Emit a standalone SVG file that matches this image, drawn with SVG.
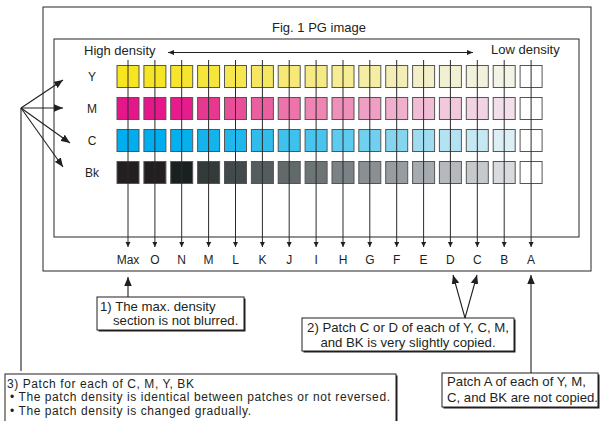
<svg xmlns="http://www.w3.org/2000/svg" width="603" height="421" viewBox="0 0 603 421">
<style>
text{font-family:"Liberation Sans",Arial,Helvetica,sans-serif;fill:#231f20}
.t13{font-size:13px}
.t12{font-size:12px}
.bx{font-size:13.2px}
.bs{font-size:12px;letter-spacing:0.58px}
.frame{fill:none;stroke:#3a3a3a;stroke-width:1.1}
.p rect{stroke:#555;stroke-width:1}
.col{stroke:#2a2a2a;stroke-width:1;fill:none}
.ln{stroke:#231f20;stroke-width:1.1;fill:none}
.box{fill:#fff;stroke:#231f20;stroke-width:1}
.sh{fill:#231f20}
</style>
<defs>
<marker id="sa" markerUnits="userSpaceOnUse" markerWidth="6" markerHeight="6" refX="5" refY="2.5" orient="auto"><path d="M0,0 L5,2.5 L0,5 z" fill="#231f20"/></marker>
<marker id="da" markerUnits="userSpaceOnUse" markerWidth="8" markerHeight="6" refX="6" refY="2.5" orient="auto-start-reverse"><path d="M0,0 L6,2.5 L0,5 z" fill="#231f20"/></marker>
<marker id="ba" markerUnits="userSpaceOnUse" markerWidth="10" markerHeight="8" refX="9" refY="3.75" orient="auto"><path d="M0,0 L9,3.75 L0,7.5 z" fill="#231f20"/></marker>
</defs>

<g id="frames">
<rect class="frame" x="43" y="7" width="548" height="264"/>
<rect class="frame" x="54" y="39" width="525" height="198"/>
<text class="t13" x="319" y="32" text-anchor="middle">Fig. 1 PG image</text>
<text class="t13" x="84" y="55">High density</text>
<text class="t13" x="491" y="54">Low density</text>
</g>

<g id="row-labels" class="t12">
<text x="92" y="81" text-anchor="middle">Y</text>
<text x="92" y="113" text-anchor="middle">M</text>
<text x="92" y="145" text-anchor="middle">C</text>
<text x="92" y="177" text-anchor="middle">Bk</text>
</g>

<g id="patches" class="p">
<g id="row-Y" transform="translate(0,65.5)">
<rect x="117" width="22" height="22" fill="#f6e51f"/>
<rect x="143.9" width="22" height="22" fill="#f6e524"/>
<rect x="170.7" width="22" height="22" fill="#f6e52c"/>
<rect x="197.6" width="22" height="22" fill="#f6e53a"/>
<rect x="224.5" width="22" height="22" fill="#f6e64f"/>
<rect x="251.4" width="22" height="22" fill="#f6e763"/>
<rect x="278.2" width="22" height="22" fill="#f6e977"/>
<rect x="305.1" width="22" height="22" fill="#f6ea85"/>
<rect x="332" width="22" height="22" fill="#f6ec94"/>
<rect x="358.8" width="22" height="22" fill="#f5eda4"/>
<rect x="385.7" width="22" height="22" fill="#f4eeb6"/>
<rect x="412.6" width="22" height="22" fill="#f3efc6"/>
<rect x="439.4" width="22" height="22" fill="#f2f0d2"/>
<rect x="466.3" width="22" height="22" fill="#f2f1dc"/>
<rect x="493.2" width="22" height="22" fill="#f4f4e6"/>
<rect x="520.1" width="22" height="22" fill="#ffffff"/>
</g>
<g id="row-M" transform="translate(0,97.5)">
<rect x="117" width="22" height="22" fill="#e5168a"/>
<rect x="143.9" width="22" height="22" fill="#e6178b"/>
<rect x="170.7" width="22" height="22" fill="#e61c8c"/>
<rect x="197.6" width="22" height="22" fill="#e7388f"/>
<rect x="224.5" width="22" height="22" fill="#e84f98"/>
<rect x="251.4" width="22" height="22" fill="#ea5fa0"/>
<rect x="278.2" width="22" height="22" fill="#ec74aa"/>
<rect x="305.1" width="22" height="22" fill="#ee85b3"/>
<rect x="332" width="22" height="22" fill="#ee90ba"/>
<rect x="358.8" width="22" height="22" fill="#ef9fc4"/>
<rect x="385.7" width="22" height="22" fill="#f0b0cd"/>
<rect x="412.6" width="22" height="22" fill="#f1bdd6"/>
<rect x="439.4" width="22" height="22" fill="#f2c8dd"/>
<rect x="466.3" width="22" height="22" fill="#f1d3e3"/>
<rect x="493.2" width="22" height="22" fill="#f3dfe9"/>
<rect x="520.1" width="22" height="22" fill="#ffffff"/>
</g>
<g id="row-C" transform="translate(0,129.5)">
<rect x="117" width="22" height="22" fill="#00aeef"/>
<rect x="143.9" width="22" height="22" fill="#00aeef"/>
<rect x="170.7" width="22" height="22" fill="#05b0ee"/>
<rect x="197.6" width="22" height="22" fill="#15b3ec"/>
<rect x="224.5" width="22" height="22" fill="#20b8ec"/>
<rect x="251.4" width="22" height="22" fill="#30bcec"/>
<rect x="278.2" width="22" height="22" fill="#3ec2ed"/>
<rect x="305.1" width="22" height="22" fill="#48c4ee"/>
<rect x="332" width="22" height="22" fill="#5dcaef"/>
<rect x="358.8" width="22" height="22" fill="#71d0ef"/>
<rect x="385.7" width="22" height="22" fill="#86d5ef"/>
<rect x="412.6" width="22" height="22" fill="#9fdcf1"/>
<rect x="439.4" width="22" height="22" fill="#b3e2f2"/>
<rect x="466.3" width="22" height="22" fill="#c5e8f3"/>
<rect x="493.2" width="22" height="22" fill="#dbeff5"/>
<rect x="520.1" width="22" height="22" fill="#ffffff"/>
</g>
<g id="row-Bk" transform="translate(0,161.5)">
<rect x="117" width="22" height="22" fill="#231f20"/>
<rect x="143.9" width="22" height="22" fill="#231f20"/>
<rect x="170.7" width="22" height="22" fill="#1a2020"/>
<rect x="197.6" width="22" height="22" fill="#333a3a"/>
<rect x="224.5" width="22" height="22" fill="#434a4c"/>
<rect x="251.4" width="22" height="22" fill="#555c5f"/>
<rect x="278.2" width="22" height="22" fill="#62696b"/>
<rect x="305.1" width="22" height="22" fill="#6d7476"/>
<rect x="332" width="22" height="22" fill="#7b8285"/>
<rect x="358.8" width="22" height="22" fill="#898f93"/>
<rect x="385.7" width="22" height="22" fill="#969ca0"/>
<rect x="412.6" width="22" height="22" fill="#a6abaf"/>
<rect x="439.4" width="22" height="22" fill="#b5b9bd"/>
<rect x="466.3" width="22" height="22" fill="#c6c9cc"/>
<rect x="493.2" width="22" height="22" fill="#d8dadd"/>
<rect x="520.1" width="22" height="22" fill="#ffffff"/>
</g>
</g>

<g id="patch-labels" class="t12" text-anchor="middle">
<text x="128" y="264">Max</text>
<text x="154.9" y="264">O</text>
<text x="181.7" y="264">N</text>
<text x="208.6" y="264">M</text>
<text x="235.5" y="264">L</text>
<text x="262.4" y="264">K</text>
<text x="289.2" y="264">J</text>
<text x="316.1" y="264">I</text>
<text x="343" y="264">H</text>
<text x="369.8" y="264">G</text>
<text x="396.7" y="264">F</text>
<text x="423.6" y="264">E</text>
<text x="450.4" y="264">D</text>
<text x="477.3" y="264">C</text>
<text x="504.2" y="264">B</text>
<text x="531.1" y="264">A</text>
</g>

<g id="box1">
<rect class="sh" x="98.5" y="298.5" width="147" height="33"/>
<rect class="box" x="97" y="297" width="147" height="33"/>
<text class="bx" x="100" y="311">1) The max. density</text>
<text class="bx" x="113" y="325">section is not blurred.</text>
</g>

<g id="box2">
<rect class="sh" x="303.5" y="319.5" width="212" height="33"/>
<rect class="box" x="302" y="318" width="212" height="33"/>
<text class="bx" x="408" y="332" text-anchor="middle">2) Patch C or D of each of Y, C, M,</text>
<text class="bx" x="408" y="347" text-anchor="middle">and BK is very slightly copied.</text>
</g>

<g id="boxA">
<rect class="sh" x="443.5" y="374.5" width="156" height="34"/>
<rect class="box" x="442" y="373" width="156" height="34"/>
<text class="bx" x="447" y="386">Patch A of each of Y, M,</text>
<text class="bx" x="447" y="402">C, and BK are not copied.</text>
</g>

<g id="box3">
<rect class="sh" x="6.5" y="375.5" width="391" height="52"/>
<rect class="box" x="5" y="374" width="391" height="52"/>
<text class="bs" x="7" y="387.5">3) Patch for each of C, M, Y, BK</text>
<text class="bs" x="10" y="401">• The patch density is identical between patches or not reversed.</text>
<text class="bs" x="10" y="414.5">• The patch density is changed gradually.</text>
</g>

<g id="connectors">
<line class="ln" x1="168" y1="52.5" x2="473" y2="52.5" marker-start="url(#da)" marker-end="url(#da)"/>
<g class="col" marker-end="url(#sa)">
<line x1="128" y1="60" x2="128" y2="247"/>
<line x1="154.9" y1="60" x2="154.9" y2="247"/>
<line x1="181.7" y1="60" x2="181.7" y2="247"/>
<line x1="208.6" y1="60" x2="208.6" y2="247"/>
<line x1="235.5" y1="60" x2="235.5" y2="247"/>
<line x1="262.4" y1="60" x2="262.4" y2="247"/>
<line x1="289.2" y1="60" x2="289.2" y2="247"/>
<line x1="316.1" y1="60" x2="316.1" y2="247"/>
<line x1="343" y1="60" x2="343" y2="247"/>
<line x1="369.8" y1="60" x2="369.8" y2="247"/>
<line x1="396.7" y1="60" x2="396.7" y2="247"/>
<line x1="423.6" y1="60" x2="423.6" y2="247"/>
<line x1="450.4" y1="60" x2="450.4" y2="247"/>
<line x1="477.3" y1="60" x2="477.3" y2="247"/>
<line x1="504.2" y1="60" x2="504.2" y2="247"/>
<line x1="531.1" y1="60" x2="531.1" y2="247"/>
</g>
<g class="ln" marker-end="url(#ba)">
<line x1="21" y1="108" x2="63" y2="80"/>
<line x1="21" y1="108" x2="63" y2="108"/>
<line x1="21" y1="108" x2="70" y2="143"/>
<line x1="21" y1="108" x2="63" y2="167"/>
<line x1="128" y1="297" x2="128" y2="277"/>
<line x1="465" y1="318" x2="453" y2="275"/>
<line x1="465" y1="318" x2="477" y2="275"/>
<line x1="531" y1="373" x2="531" y2="275"/>
</g>
<line class="ln" x1="21" y1="108" x2="21" y2="371"/>
</g>
</svg>
